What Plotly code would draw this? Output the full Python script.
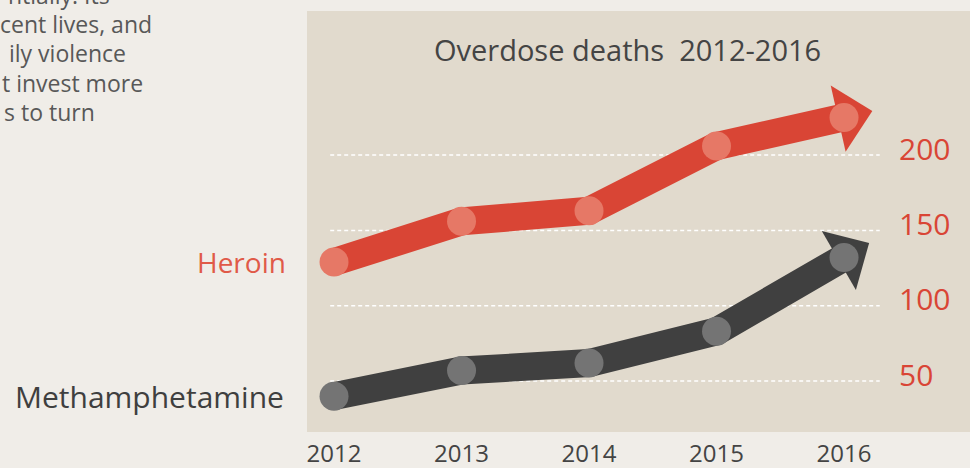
import plotly.graph_objects as go
import math

# ---- data ----
years = [2012, 2013, 2014, 2015, 2016]
year_labels = ["2012", "2013", "2014", "2015", "2016"]
heroin = [129, 156, 163, 206, 225]
meth = [40, 57, 62, 83, 132]
y_ticks = [50, 100, 150, 200]
y_tick_labels = ["50", "100", "150", "200"]
series_names = ["Heroin", "Methamphetamine"]
title_text = "Overdose deaths  2012-2016"
body_lines = ["ntially. Its", "cent lives, and", "ily violence", "t invest more", "s to turn"]

# ---- style / layout constants ----
W, H = 970, 468
ML, MR, MT, MB = 307, 0, 11, 36
XR = [2011.788, 2016.988]
YR = [16.2, 295.6]
PW, PH = W - ML - MR, H - MT - MB
SX = PW / (XR[1] - XR[0])
SY = PH / (YR[1] - YR[0])

FONT = "Open Sans"
BG = "#f0ede8"
PANEL = "#e1dacd"
RED = "#d94535"
RED_DOT = "#e67866"
DARK = "#404040"
DARK_DOT = "#747474"


def arrow_poly(xs, ys, ahead=29, behind=6, half=34):
    dx = (xs[-1] - xs[-2]) * SX
    dy = (ys[-1] - ys[-2]) * SY
    L = math.hypot(dx, dy)
    ux, uy = dx / L, dy / L
    nx, ny = -uy, ux
    pts = [
        (ahead * ux, ahead * uy),
        (-behind * ux + half * nx, -behind * uy + half * ny),
        (-behind * ux - half * nx, -behind * uy - half * ny),
    ]
    px = [xs[-1] + p[0] / SX for p in pts] + [xs[-1] + pts[0][0] / SX]
    py = [ys[-1] + p[1] / SY for p in pts] + [ys[-1] + pts[0][1] / SY]
    return px, py


fig = go.Figure()

for vals, band, dot in [(meth, DARK, DARK_DOT), (heroin, RED, RED_DOT)]:
    fig.add_trace(go.Scatter(x=years, y=vals, mode="lines",
                             line=dict(color=band, width=28),
                             hoverinfo="skip", showlegend=False))
    ax, ay = arrow_poly(years, vals)
    fig.add_trace(go.Scatter(x=ax, y=ay, mode="lines", fill="toself",
                             fillcolor=band, line=dict(color=band, width=0),
                             hoverinfo="skip", showlegend=False))
    fig.add_trace(go.Scatter(x=years, y=vals, mode="markers",
                             marker=dict(color=dot, size=29, line=dict(width=0)),
                             showlegend=False))

shapes = []
for t in y_ticks:
    shapes.append(dict(type="line", xref="x", yref="y", layer="below",
                       x0=years[0] - 0.03, x1=years[-1] + 0.28, y0=t, y1=t,
                       line=dict(color="white", width=1.5, dash="4px,3px")))

ann = []
for t, lab in zip(y_ticks, y_tick_labels):
    ann.append(dict(x=years[-1] + 0.415, y=t, xref="x", yref="y", text=lab,
                    showarrow=False, xanchor="left", yanchor="middle", yshift=7,
                    font=dict(family=FONT, size=30, color=RED)))

ann.append(dict(x=(627 - ML) / PW, y=(H - MB - 50) / PH, xref="paper", yref="paper",
                text=title_text, showarrow=False, xanchor="center", yanchor="middle",
                font=dict(family=FONT, size=29, color="#444444")))

ann.append(dict(x=(288 - ML) / PW, y=heroin[0], xref="paper", yref="y",
                text=series_names[0], showarrow=False, xanchor="right", yanchor="middle",
                font=dict(family=FONT, size=28, color="#e05a48")))
ann.append(dict(x=(286 - ML) / PW, y=meth[0], xref="paper", yref="y",
                text=series_names[1], showarrow=False, xanchor="right", yanchor="middle",
                font=dict(family=FONT, size=30, color="#3f3f3f")))

body_right = [112, 154, 128, 145, 97]
body_y = [-5, 24, 53, 83, 112]
for txt, xr, yp in zip(body_lines, body_right, body_y):
    ann.append(dict(x=(xr - ML) / PW, y=(H - MB - yp) / PH, xref="paper", yref="paper",
                    text=txt, showarrow=False, xanchor="right", yanchor="middle",
                    font=dict(family=FONT, size=23, color="#585858")))

fig.update_layout(
    width=W, height=H,
    margin=dict(l=ML, r=MR, t=MT, b=MB, autoexpand=False),
    paper_bgcolor=BG, plot_bgcolor=PANEL,
    showlegend=False,
    shapes=shapes, annotations=ann,
    xaxis=dict(range=XR, tickvals=years, ticktext=year_labels, automargin=False,
               showgrid=False, zeroline=False, showline=False,
               ticks="outside", ticklen=0, tickcolor="rgba(0,0,0,0)",
               tickfont=dict(family=FONT, size=24, color="#444444")),
    yaxis=dict(range=YR, showgrid=False, zeroline=False, showline=False, automargin=False,
               showticklabels=False, ticks=""),
)

fig.write_html("out.html", config={"displayModeBar": False},
               post_script="document.body.style.margin='0';document.body.style.overflow='hidden';")
